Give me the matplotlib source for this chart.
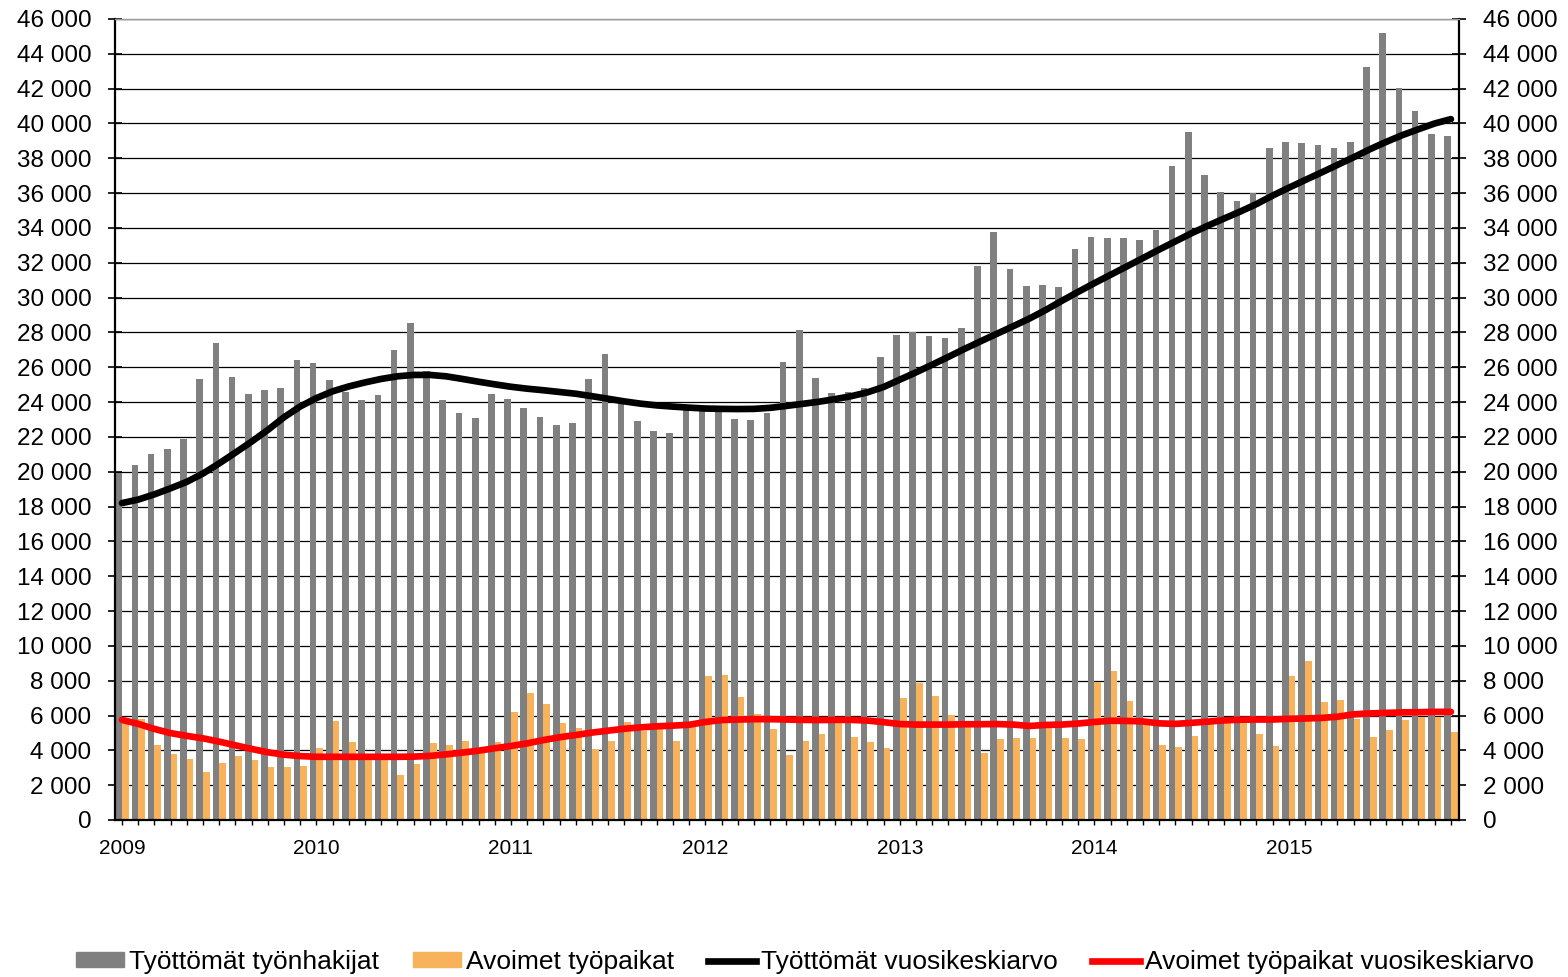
import numpy as np
import matplotlib
matplotlib.use("Agg")
import matplotlib.pyplot as plt
from matplotlib.patches import Patch
from matplotlib.lines import Line2D
from matplotlib.ticker import FuncFormatter, MultipleLocator

plt.rcParams['font.family'] = ['Liberation Sans', 'DejaVu Sans']

# Monthly data, Jan 2009 - Nov 2015
years = ['2009', '2010', '2011', '2012', '2013', '2014', '2015']

tyottomat = [
    19900, 20400, 21020, 21310, 21900, 25350, 27380, 25420, 24460, 24690, 24790, 26440,
    26270, 25270, 24600, 24130, 24380, 27000, 28560, 25810, 24100, 23390, 23100, 24480,
    24190, 23650, 23130, 22690, 22790, 25310, 26790, 23950, 22940, 22350, 22210, 23550,
    23600, 23480, 23020, 22980, 23400, 26330, 28120, 25380, 24520, 24560, 24790, 26600,
    27850, 28020, 27770, 27670, 28250, 31810, 33790, 31650, 30650, 30730, 30620, 32790,
    33500, 33420, 33420, 33310, 33870, 37580, 39520, 37060, 36060, 35540, 36020, 38620,
    38960, 38870, 38750, 38620, 38960, 43230, 45210, 42060, 40710, 39420, 39270,
]

avoimet = [
    5700, 5790, 4290, 3770, 3480, 2730, 3290, 3670, 3440, 3020, 3020, 3100,
    4120, 5690, 4480, 3700, 3600, 2580, 3190, 4400, 4290, 4520, 3900, 4480,
    6210, 7290, 6690, 5580, 5290, 4060, 4520, 5630, 5100, 5200, 4520, 5400,
    8290, 8330, 7060, 6100, 5250, 3730, 4520, 4940, 5700, 4770, 4480, 4130,
    7020, 7870, 7130, 6020, 5600, 3850, 4650, 4690, 4730, 5400, 4730, 4650,
    7920, 8560, 6830, 5500, 4310, 4190, 4830, 5600, 5600, 5700, 4940, 4230,
    8250, 9120, 6750, 6880, 5800, 4790, 5170, 5750, 5920, 5920, 5040,
]

tyottomat_ka = [
    18200, 18400, 18700, 19050, 19420, 19900, 20480, 21100, 21730, 22400, 23130, 23750,
    24230, 24620, 24900, 25130, 25330, 25480, 25560, 25560, 25480, 25330, 25170, 25020,
    24880, 24770, 24680, 24580, 24480, 24340, 24190, 24040, 23910, 23810, 23740, 23680,
    23630, 23610, 23600, 23610, 23670, 23780, 23900, 24020, 24170, 24340, 24560, 24870,
    25290, 25710, 26150, 26600, 27060, 27500, 27930, 28360, 28800, 29290, 29820, 30330,
    30830, 31310, 31790, 32270, 32760, 33230, 33700, 34130, 34540, 34940, 35370, 35860,
    36310, 36750, 37180, 37620, 38060, 38520, 38940, 39330, 39670, 40000, 40250,
]

avoimet_ka = [
    5750, 5520, 5230, 4990, 4830, 4690, 4500, 4290, 4080, 3890, 3750, 3670,
    3630, 3630, 3630, 3630, 3630, 3630, 3640, 3680, 3770, 3870, 3980, 4120,
    4250, 4400, 4590, 4750, 4880, 5020, 5130, 5240, 5320, 5380, 5420, 5470,
    5630, 5740, 5770, 5790, 5790, 5770, 5750, 5740, 5750, 5750, 5710, 5620,
    5510, 5480, 5480, 5480, 5500, 5500, 5510, 5480, 5400, 5460, 5480, 5540,
    5630, 5700, 5690, 5660, 5550, 5520, 5580, 5650, 5720, 5760, 5770, 5770,
    5810, 5830, 5860, 5930, 6070, 6120, 6150, 6180, 6190, 6210, 6210,
]

labels = ['Työttömät työnhakijat', 'Avoimet työpaikat',
          'Työttömät vuosikeskiarvo', 'Avoimet työpaikat vuosikeskiarvo']

gray = '#808080'
orange = '#F9B25C'

x = np.arange(len(tyottomat))
w = 0.41

fig = plt.figure(figsize=(15.68, 9.77), dpi=100)
ax = fig.add_axes([115 / 1568, 1 - 820 / 977, (1459 - 115) / 1568, (820 - 19) / 977])

ax.bar(x - w / 2, tyottomat, w, color=gray, zorder=2)
ax.bar(x + w / 2, avoimet, w, color=orange, zorder=2)
ax.plot(x, tyottomat_ka, color='black', lw=4.8, solid_capstyle='round',
        solid_joinstyle='round', zorder=3)
ax.plot(x, avoimet_ka, color='#FF0000', lw=4.8, solid_capstyle='round',
        solid_joinstyle='round', zorder=3)

ax.set_xlim(-0.43, 82.5)
ax.set_ylim(0, 46000)
ax.yaxis.set_major_locator(MultipleLocator(2000))
ax.yaxis.set_major_formatter(FuncFormatter(lambda v, p: f"{v:,.0f}".replace(",", " ")))
ax.set_axisbelow(True)
ax.yaxis.grid(True, color='black', lw=0.9)

xt_labels = [years[k // 12] if k % 12 == 0 else '' for k in x]
ax.set_xticks(x)
ax.set_xticklabels(xt_labels, fontsize=15)
ax.tick_params(axis='x', direction='out', length=3.5, width=1, pad=10)
ax.tick_params(axis='y', direction='inout', length=10, width=1.2, pad=12,
               labelsize=17.5, left=True, right=True, labelleft=True, labelright=True)

for s in ['left', 'right', 'bottom']:
    ax.spines[s].set_color('black')
    ax.spines[s].set_linewidth(1.6)
ax.spines['top'].set_color('#9a9a9a')
ax.spines['top'].set_linewidth(1.0)

handles = [Patch(color=gray), Patch(color=orange),
           Line2D([], [], color='black', lw=4.8),
           Line2D([], [], color='#FF0000', lw=4.8)]
fig.legend(handles, labels, ncol=4, loc='center', bbox_to_anchor=(805 / 1568, 1 - 962 / 977),
           frameon=False, fontsize=19, handlelength=1.8, handleheight=0.5,
           handletextpad=0.2, columnspacing=1.3, borderpad=0)

fig.savefig('out.png', dpi=100)
